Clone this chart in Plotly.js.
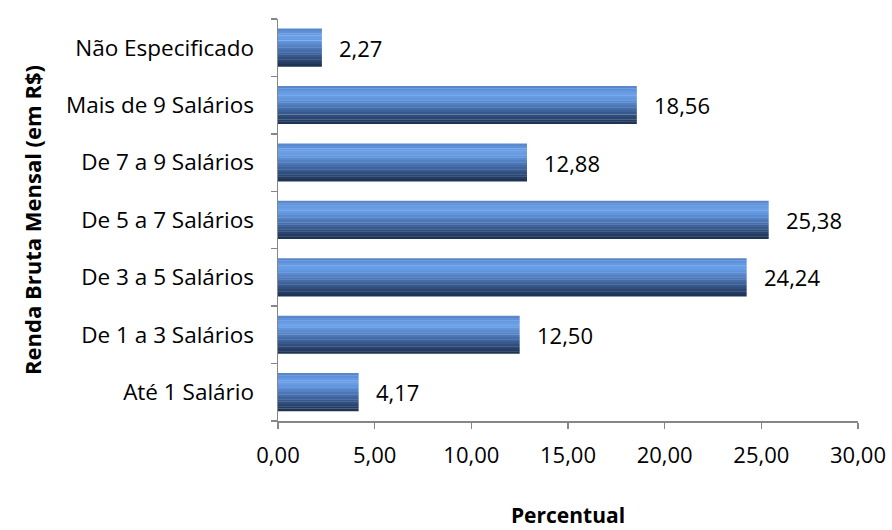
<!DOCTYPE html>
<html>
<head>
<meta charset="utf-8">
<script src="https://cdn.plot.ly/plotly-3.0.1.min.js"></script>
<style>html,body{margin:0;padding:0;background:#fff;}#chart{width:892px;height:530px;}</style>
</head>
<body>
<div id="chart"></div>
<script>
const categories = ["Até 1 Salário", "De 1 a 3 Salários", "De 3 a 5 Salários", "De 5 a 7 Salários", "De 7 a 9 Salários", "Mais de 9 Salários", "Não Especificado"];
const values = [4.17, 12.50, 24.24, 25.38, 12.88, 18.56, 2.27];
const xTickValues = [0, 5, 10, 15, 20, 25, 30];

// vertical gradient stripes (top -> bottom) to mimic the shaded bars
const stripeColors = ["#5887cc", "#5f91d8", "#6599e1", "#699fe8", "#679ce5", "#6195dc", "#5a8bd1", "#5381c4", "#4c77b7", "#456daa", "#3e639c", "#37598d", "#304f7e", "#2a456f", "#243c61", "#1f3454"];
const barWidth = 0.66;
const n = stripeColors.length;
const traces = stripeColors.map((c, i) => {
  const w = barWidth / n;
  const top = barWidth / 2 - i * w;
  return {
    type: 'bar', orientation: 'h',
    y: categories, x: values,
    width: categories.map(() => w + 0.004),
    offset: categories.map(() => top - w),
    marker: {color: c, line: {width: 0}},
    hoverinfo: 'skip', showlegend: false
  };
});

const FONT = '"Open Sans", "Noto Sans", sans-serif';
const annotations = values.map((v, i) => ({
  x: v, y: categories[i], xref: 'x', yref: 'y',
  text: v.toFixed(2).replace('.', ','),
  showarrow: false, xanchor: 'left', xshift: 15,
  font: {family: FONT, size: 22, color: '#000'}
}));

const layout = {
  width: 892, height: 530,
  margin: {l: 278, r: 34, t: 19, b: 109},
  paper_bgcolor: '#fff', plot_bgcolor: '#fff',
  barmode: 'overlay',
  separators: ',.',
  font: {family: FONT, size: 22, color: '#000'},
  xaxis: {
    range: [0, 30], tickvals: xTickValues, tickformat: '.2f',
    showgrid: false, zeroline: false,
    showline: true, linecolor: '#868686', linewidth: 1.5,
    ticks: 'outside', ticklen: 6, tickcolor: '#868686', tickwidth: 1.5,
    tickfont: {size: 22},
    ticklabelstandoff: 8,
    title: {text: '<b>Percentual</b>', font: {size: 21}, standoff: 40}
  },
  yaxis: {
    type: 'category', categoryorder: 'array', categoryarray: categories,
    showgrid: false, zeroline: false,
    showline: true, linecolor: '#868686', linewidth: 1.5,
    ticks: 'outside', tickson: 'boundaries', ticklen: 6, tickcolor: '#868686', tickwidth: 1.5,
    tickfont: {size: 22.5},
    ticklabelstandoff: 18,
    title: {text: '<b>Renda Bruta Mensal (em R$)</b>', font: {size: 22}, standoff: 18}
  },
  annotations: annotations
};

Plotly.newPlot('chart', traces, layout, {displayModeBar: false, staticPlot: true});
</script>
</body>
</html>
